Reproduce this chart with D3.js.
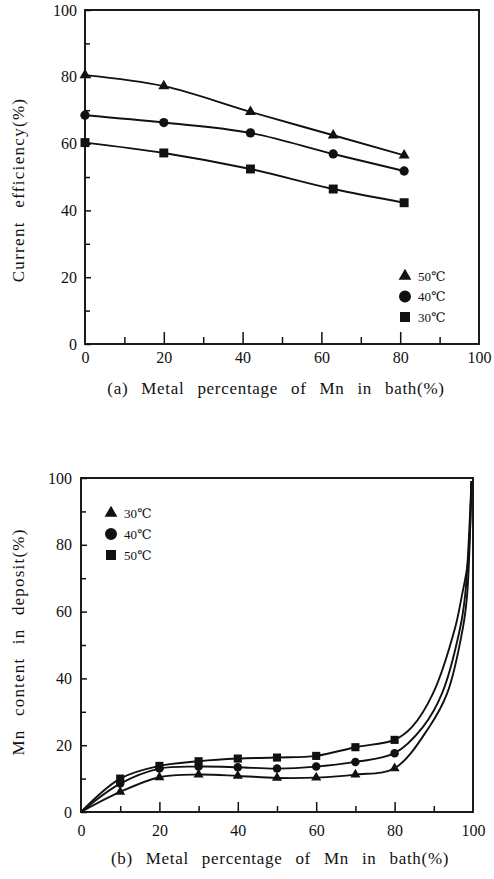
<!DOCTYPE html>
<html>
<head>
<meta charset="utf-8">
<title>Mn bath</title>
<style>
    body { margin: 0; background: #fff; }
    svg { font-family: "Liberation Serif", "Times New Roman", "DejaVu Serif", serif; }
    svg text { fill: #111; }
    .tick line { stroke: #111; stroke-width: 1.5px; }
    .curve { fill: none; stroke: #111; stroke-width: 1.9px; }
    .frame { fill: none; stroke: #111; stroke-width: 1.9px; }
</style>
</head>
<body>
<script src="https://cdn.jsdelivr.net/npm/d3@7/dist/d3.min.js"></script>
<script>
    // tick values shared by both panels
    var majorTicks = [0, 20, 40, 60, 80, 100];
    var minorTicks = [10, 30, 50, 70, 90];

    // (a) current efficiency against Mn in bath
    var bathA = [0, 20, 42, 63, 81];
    var eff50 = [80.5, 77.2, 69.5, 62.5, 56.5];
    var eff40 = [68.5, 66.3, 63.2, 56.9, 51.8];
    var eff30 = [60.3, 57.2, 52.4, 46.4, 42.3];
    var legendA = ["50℃", "40℃", "30℃"];

    // (b) Mn content in deposit against Mn in bath
    var bathB = [10, 20, 30, 40, 50, 60, 70, 80];
    var mn30 = [6.0, 10.4, 11.2, 10.8, 10.2, 10.3, 11.2, 13.1];
    var mn40 = [8.5, 13.0, 13.6, 13.4, 13.0, 13.6, 15.0, 17.6];
    var mn50 = [10.0, 13.8, 15.2, 16.0, 16.3, 16.8, 19.4, 21.6];
    // the fitted curves leave the origin and climb steeply after 80
    var tail30x = [88.8, 93.4, 97.4, 98.5, 99.6];
    var tail30y = [25.4, 35.5, 55, 65, 99];
    var tail40x = [87.2, 92.1, 96.7, 98.0, 99.6];
    var tail40y = [25.4, 35.5, 55, 65, 99];
    var tail50x = [84.4, 89.8, 95.4, 97.2, 98.7, 99.6];
    var tail50y = [25.4, 35.5, 55, 65, 75, 99];
    var legendB = ["30℃", "40℃", "50℃"];

    var svg = d3.select("body").append("svg")
        .attr("width", 494)
        .attr("height", 879);

    var lineA = d3.line().curve(d3.curveMonotoneX);
    var lineB = d3.line().curve(d3.curveCatmullRom.alpha(0.5));

    function zip(xs, ys) {
        return xs.map(function (x, i) { return [x, ys[i]]; });
    }

    function clean(g) {
        g.attr("font-family", null).attr("font-size", null);
        g.select(".domain").remove();
        g.selectAll("text").style("font-size", "16px");
    }

    // frame, ticks and labels of one panel
    function panel(box, o) {
        var x = d3.scaleLinear().domain([0, 100]).range([box.left, box.right]);
        var y = d3.scaleLinear().domain([0, 100]).range([box.bottom, box.top]);

        svg.append("rect")
            .attr("class", "frame")
            .attr("x", box.left).attr("y", box.top)
            .attr("width", box.right - box.left)
            .attr("height", box.bottom - box.top);

        svg.append("g")
            .attr("transform", "translate(0," + box.bottom + ")")
            .call(d3.axisBottom(x).tickValues(majorTicks.slice(1, 5))
                .tickSizeInner(-o.xMajor).tickSizeOuter(0).tickFormat(""))
            .call(clean);
        svg.append("g")
            .attr("transform", "translate(0," + box.bottom + ")")
            .call(d3.axisBottom(x).tickValues(minorTicks)
                .tickSizeInner(-o.xMinor).tickSizeOuter(0).tickFormat(""))
            .call(clean);
        // x labels
        svg.append("g")
            .attr("transform", "translate(0," + box.bottom + ")")
            .call(d3.axisBottom(x).tickValues(majorTicks)
                .tickSize(0).tickPadding(o.xPad))
            .call(clean);

        svg.append("g")
            .attr("transform", "translate(" + box.left + ",0)")
            .call(d3.axisLeft(y).tickValues(majorTicks)
                .tickSizeInner(-o.yMajor).tickSizeOuter(0).tickPadding(o.yPad))
            .call(clean);
        svg.append("g")
            .attr("transform", "translate(" + box.left + ",0)")
            .call(d3.axisLeft(y).tickValues(minorTicks)
                .tickSizeInner(-o.yMinor).tickSizeOuter(0).tickFormat(""))
            .call(clean);

        return {x: x, y: y};
    }

    function marks(sc, pts, type, size) {
        svg.append("g").selectAll("path")
            .data(pts)
            .enter().append("path")
            .attr("transform", function (d) {
                return "translate(" + sc.x(d[0]) + "," + sc.y(d[1]) + ")";
            })
            .attr("d", d3.symbol().type(type).size(size))
            .style("fill", "#111");
    }

    function curve(sc, pts, line) {
        svg.append("path")
            .attr("class", "curve")
            .attr("d", line(pts.map(function (d) { return [sc.x(d[0]), sc.y(d[1])]; })));
    }

    function legend(items, types, sizes, lx, ly, gap) {
        var g = svg.append("g");
        items.forEach(function (t, i) {
            g.append("path")
                .attr("transform", "translate(" + lx + "," + (ly + i * gap) + ")")
                .attr("d", d3.symbol().type(types[i]).size(sizes[i]))
                .style("fill", "#111");
            g.append("text")
                .attr("x", lx + 13)
                .attr("y", ly + i * gap)
                .attr("dy", "0.35em")
                .style("font-size", "13px")
                .text(t);
        });
    }

    function title(x, y, rot, txt, ws, ls) {
        svg.append("text")
            .attr("transform", "translate(" + x + "," + y + ")" + (rot ? " rotate(-90)" : ""))
            .attr("text-anchor", "middle")
            .attr("dy", rot ? "0.35em" : 0)
            .style("font-size", "17px")
            .style("word-spacing", ws + "px")
            .style("letter-spacing", ls + "px")
            .text(txt);
    }

    // ****************** panel (a) ******************
    var a = panel({left: 85, right: 479, top: 10, bottom: 344},
        {xMajor: 12, xMinor: 7, yMajor: 6, yMinor: 5, xPad: 8, yPad: 8});

    [eff50, eff40, eff30].forEach(function (s) { curve(a, zip(bathA, s), lineA); });
    marks(a, zip(bathA, eff50), d3.symbolTriangle, 52);
    marks(a, zip(bathA, eff40), d3.symbolCircle, 68);
    marks(a, zip(bathA, eff30), d3.symbolSquare, 80);

    legend(legendA, [d3.symbolTriangle, d3.symbolCircle, d3.symbolSquare],
        [70, 113, 100], 405, 276, 20.5);

    title(18, 190, true, "Current efficiency(%)", 8, 1.3);
    title(276, 394, false, "(a) Metal percentage of Mn in bath(%)", 8, 0.7);

    // ****************** panel (b) ******************
    var b = panel({left: 81, right: 473, top: 478, bottom: 812},
        {xMajor: 10, xMinor: 6, yMajor: 6, yMinor: 5, xPad: 13, yPad: 9});

    curve(b, [[0, 0]].concat(zip(bathB, mn30), zip(tail30x, tail30y)), lineB);
    curve(b, [[0, 0]].concat(zip(bathB, mn40), zip(tail40x, tail40y)), lineB);
    curve(b, [[0, 0]].concat(zip(bathB, mn50), zip(tail50x, tail50y)), lineB);
    marks(b, zip(bathB, mn30), d3.symbolTriangle, 44);
    marks(b, zip(bathB, mn40), d3.symbolCircle, 57);
    marks(b, zip(bathB, mn50), d3.symbolSquare, 66);

    legend(legendB, [d3.symbolTriangle, d3.symbolCircle, d3.symbolSquare],
        [70, 113, 100], 111, 513, 21);

    title(18, 642, true, "Mn content in deposit(%)", 8, 1.2);
    title(280, 864, false, "(b) Metal percentage of Mn in bath(%)", 8, 0.7);
</script>
</body>
</html>
